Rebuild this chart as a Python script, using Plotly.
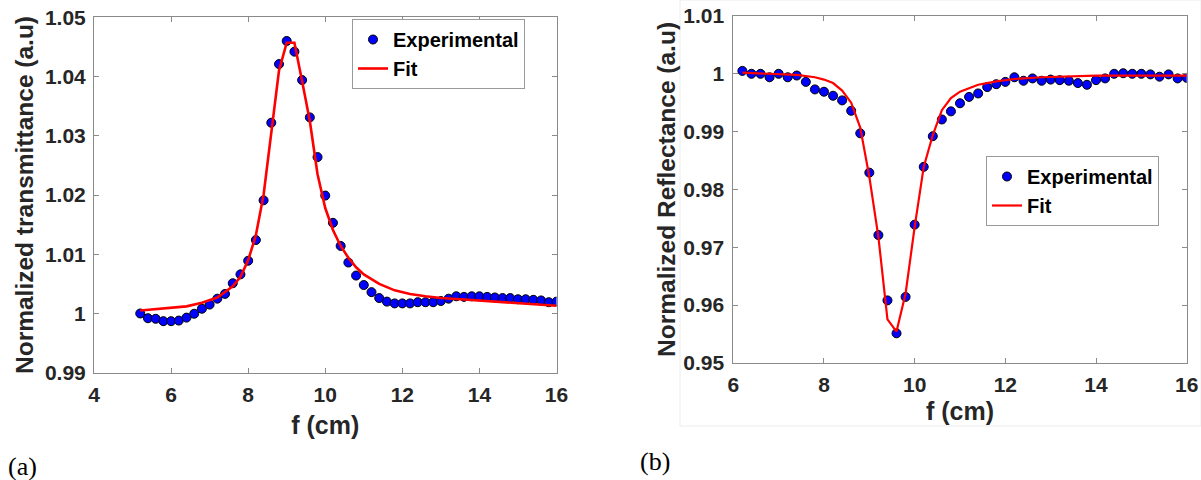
import plotly.graph_objects as go

# ---------------- data: panel (a) transmittance ----------------
f_a = [5.2, 5.4, 5.6, 5.8, 6.0, 6.2, 6.4, 6.6, 6.8, 7.0, 7.2, 7.4, 7.6, 7.8, 8.0,
       8.2, 8.4, 8.6, 8.8, 9.0, 9.2, 9.4, 9.6, 9.8, 10.0, 10.2, 10.4, 10.6, 10.8,
       11.0, 11.2, 11.4, 11.6, 11.8, 12.0, 12.2, 12.4, 12.6, 12.8, 13.0, 13.2,
       13.4, 13.6, 13.8, 14.0, 14.2, 14.4, 14.6, 14.8, 15.0, 15.2, 15.4, 15.6,
       15.8, 16.0]
t_exp = [1.0000, 0.9992, 0.9991, 0.9987, 0.9987, 0.9988, 0.9993, 0.99995, 1.0008,
         1.0015, 1.0025, 1.0033, 1.0051, 1.0066, 1.0089, 1.0124, 1.0191, 1.0322,
         1.0421, 1.0460, 1.0442, 1.0394, 1.0331, 1.0264, 1.0199, 1.0153, 1.0114,
         1.0086, 1.0064, 1.0048, 1.0036, 1.0026, 1.0020, 1.0017, 1.0017, 1.0017,
         1.0019, 1.0019, 1.0019, 1.0021, 1.0025, 1.0029, 1.0028, 1.0029, 1.0029,
         1.0028, 1.0027, 1.0026, 1.0026, 1.0024, 1.0024, 1.0023, 1.0022, 1.0019,
         1.0020]
f_a_fit = [5.2, 5.6, 6.0, 6.4, 6.8, 7.2, 7.6, 7.8, 8.0, 8.2, 8.4, 8.6, 8.8, 9.0,
           9.2, 9.4, 9.6, 9.8, 10.0, 10.2, 10.4, 10.6, 10.8, 11.0, 11.4, 11.8,
           12.2, 12.6, 13.0, 13.5, 14.0, 14.5, 15.0, 15.5, 16.0]
t_fit = [1.0005, 1.0007, 1.0009, 1.0012, 1.0018, 1.0027, 1.0046, 1.0062, 1.0090,
         1.0132, 1.0200, 1.0305, 1.0410, 1.0457, 1.0457, 1.0392, 1.0325, 1.0235,
         1.0178, 1.0141, 1.0114, 1.0094, 1.0078, 1.0066, 1.0050, 1.0039, 1.0033,
         1.0029, 1.0026, 1.0024, 1.0022, 1.0020, 1.0018, 1.0016, 1.0013]

# ---------------- data: panel (b) reflectance ----------------
f_b = [6.2, 6.4, 6.6, 6.8, 7.0, 7.2, 7.4, 7.6, 7.8, 8.0, 8.2, 8.4, 8.6, 8.8, 9.0,
       9.2, 9.4, 9.6, 9.8, 10.0, 10.2, 10.4, 10.6, 10.8, 11.0, 11.2, 11.4, 11.6,
       11.8, 12.0, 12.2, 12.4, 12.6, 12.8, 13.0, 13.2, 13.4, 13.6, 13.8, 14.0,
       14.2, 14.4, 14.6, 14.8, 15.0, 15.2, 15.4, 15.6, 15.8, 16.0]
r_exp = [1.0005, 1.0000, 1.0000, 0.9994, 1.0000, 0.9994, 0.9997, 0.9986, 0.9973,
         0.9969, 0.9962, 0.9954, 0.9936, 0.9897, 0.9829, 0.9721, 0.9608, 0.9551,
         0.9614, 0.9739, 0.9839, 0.9892, 0.9921, 0.9935, 0.9949, 0.9960, 0.9966,
         0.9977, 0.9982, 0.9986, 0.9994, 0.9988, 0.9992, 0.9988, 0.9990, 0.9989,
         0.9988, 0.9984, 0.9981, 0.9989, 0.9992, 1.0000, 1.0001, 1.0000, 1.0000,
         0.9999, 0.9995, 0.9999, 0.9992, 0.9993]
f_b_fit = [6.2, 6.6, 7.0, 7.4, 7.8, 8.0, 8.2, 8.4, 8.6, 8.8, 9.0, 9.2, 9.4, 9.6,
           9.8, 10.0, 10.2, 10.4, 10.6, 10.8, 11.0, 11.4, 11.8, 12.2, 12.8, 13.4,
           14.0, 15.0, 16.0]
r_fit = [1.0002, 1.0001, 1.0000, 0.9998, 0.9994, 0.9990, 0.9984, 0.9971, 0.9950,
         0.9907, 0.9822, 0.9718, 0.9575, 0.9554, 0.9620, 0.9735, 0.9839, 0.9894,
         0.9937, 0.9958, 0.9969, 0.9981, 0.9987, 0.9991, 0.9994, 0.9996, 0.9997,
         0.9997, 0.9997]

xticks_a = [4, 6, 8, 10, 12, 14, 16]
yticks_a = [0.99, 1.00, 1.01, 1.02, 1.03, 1.04, 1.05]
ytext_a = ["0.99", "1", "1.01", "1.02", "1.03", "1.04", "1.05"]
xticks_b = [6, 8, 10, 12, 14, 16]
yticks_b = [0.95, 0.96, 0.97, 0.98, 0.99, 1.00, 1.01]
ytext_b = ["0.95", "0.96", "0.97", "0.98", "0.99", "1", "1.01"]

W, H = 1201, 480
SANS = "Liberation Sans, Arial, sans-serif"
TXT = "#262626"
AX = "#8a8a8a"

marker = dict(color="#0000ff", size=9, line=dict(color="black", width=1))

fig = go.Figure()
fig.add_trace(go.Scatter(x=f_a, y=t_exp, mode="markers", name="Experimental",
                         marker=marker, xaxis="x", yaxis="y", legend="legend"))
fig.add_trace(go.Scatter(x=f_a_fit, y=t_fit, mode="lines", name="Fit",
                         line=dict(color="#ff0000", width=2.6), xaxis="x", yaxis="y",
                         legend="legend"))
fig.add_trace(go.Scatter(x=f_b, y=r_exp, mode="markers", name="Experimental",
                         marker=marker, xaxis="x2", yaxis="y2", legend="legend2"))
fig.add_trace(go.Scatter(x=f_b_fit, y=r_fit, mode="lines", name="Fit",
                         line=dict(color="#ff0000", width=2.2), xaxis="x2", yaxis="y2",
                         legend="legend2"))

tickfont = dict(family=SANS, size=21, color=TXT, weight="bold")
xtitlefont = dict(family=SANS, size=25, color=TXT, weight="bold")
ytitlefont = dict(family=SANS, size=24.5, color=TXT, weight="bold")
common = dict(showline=True, linecolor=AX, linewidth=1, mirror="ticks",
              ticks="inside", ticklen=5, tickcolor=AX, tickwidth=1,
              showgrid=False, zeroline=False, tickfont=tickfont, automargin=False)

legfont = dict(family=SANS, size=20, color="black", weight="bold")

fig.update_layout(
    width=W, height=H, margin=dict(l=0, r=0, t=0, b=0, autoexpand=False),
    paper_bgcolor="white", plot_bgcolor="white",
    xaxis=dict(domain=[94 / W, 556.5 / W], range=[4, 16], tickvals=xticks_a,
               anchor="y", ticklabelstandoff=3,
               title=dict(text="f (cm)", font=xtitlefont, standoff=11), **common),
    yaxis=dict(domain=[1 - 372.7 / H, 1 - 17.3 / H], range=[0.99, 1.05],
               tickvals=yticks_a, ticktext=ytext_a, anchor="x", ticklabelstandoff=3,
               title=dict(text="Normalized transmittance (a.u)", font=ytitlefont,
                          standoff=4), **common),
    xaxis2=dict(domain=[733.3 / W, 1186.7 / W], range=[6, 16], tickvals=xticks_b,
                anchor="y2", ticklabelstandoff=3,
                title=dict(text="f (cm)", font=xtitlefont, standoff=7), **common),
    yaxis2=dict(domain=[1 - 362.8 / H, 1 - 16 / H], range=[0.95, 1.01],
                tickvals=yticks_b, ticktext=ytext_b, anchor="x2", ticklabelstandoff=4,
                title=dict(text="Normalized Reflectance (a.u)", font=ytitlefont,
                           standoff=0), **common),
    legend=dict(x=352 / W, y=1 - 19 / H, xanchor="left", yanchor="top",
                bgcolor="white", bordercolor="#9a9a9a", borderwidth=1,
                font=legfont, tracegroupgap=0, itemwidth=30),
    legend2=dict(x=986 / W, y=1 - 156 / H, xanchor="left", yanchor="top",
                 bgcolor="white", bordercolor="#9a9a9a", borderwidth=1,
                 font=legfont, tracegroupgap=0, itemwidth=30),
    showlegend=True,
)

# faint frame of panel (b)
fig.add_shape(type="rect", xref="paper", yref="paper",
              x0=680 / W, x1=1, y0=1 - 426 / H, y1=1,
              line=dict(color="#ececec", width=1), fillcolor="rgba(0,0,0,0)",
              layer="below")

fig.add_annotation(text="(a)", xref="paper", yref="paper", x=22.7 / W, y=1 - 466 / H,
                   xanchor="center", yanchor="middle", showarrow=False,
                   font=dict(family="Liberation Serif, Times New Roman, serif", size=26,
                             color="black"))
fig.add_annotation(text="(b)", xref="paper", yref="paper", x=655 / W, y=1 - 461 / H,
                   xanchor="center", yanchor="middle", showarrow=False,
                   font=dict(family="Liberation Serif, Times New Roman, serif", size=26,
                             color="black"))

fig.write_html("out.html", config={"displayModeBar": False},
               post_script="document.body.style.margin='0';document.body.style.overflow='hidden';")
